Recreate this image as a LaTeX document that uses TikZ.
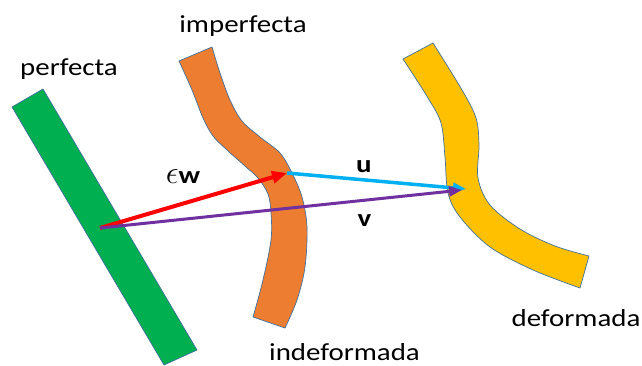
\documentclass[tikz,border=0pt]{standalone}
\usepackage{fontspec}
\newfontfamily\lblfont[FakeStretch=1.18]{Carlito}
\usetikzlibrary{arrows.meta}
\definecolor{barGreen}{HTML}{00B050}
\definecolor{imperfOrange}{HTML}{ED7D31}
\definecolor{deformYellow}{HTML}{FFC000}
\definecolor{outline}{HTML}{41719C}
\definecolor{vecRed}{HTML}{FF0000}
\definecolor{vecBlue}{HTML}{00B0F0}
\definecolor{vecPurple}{HTML}{7030A0}
\tikzset{
  strip/.style={draw=outline,line width=0.7pt,line join=round},
  lbl/.style={font=\lblfont\fontsize{24.5}{28}\selectfont,text=black,inner sep=0pt,anchor=base},
  veclbl/.style={font=\lblfont\bfseries\fontsize{24.5}{28}\selectfont,text=black,inner sep=0pt,anchor=base},
  vecred/.style={-{Triangle[length=15pt,width=12pt]},draw=vecRed,line width=4pt},
  vecblue/.style={-{Triangle[length=13pt,width=10pt]},draw=vecBlue,line width=3.5pt},
  vecpurple/.style={-{Triangle[length=13pt,width=10pt]},draw=vecPurple,line width=3pt}
}
\begin{document}
\begin{tikzpicture}[x=1pt,y=-1pt]
\path[use as bounding box] (0,0) rectangle (642,365);
% perfecta
\draw[strip,fill=barGreen] (12,107) -- (43,89) -- (197,350) -- (164,365) -- cycle;
% imperfecta / indeformada
\draw[strip,fill=imperfOrange] (179,61) -- plot[smooth,tension=0.55] coordinates {(212,47) (220,73) (230,100) (242,121) (260,137) (280,153) (292,173) (302,197) (307,227) (305,267) (297,300) (285,328)}
  -- plot[smooth,tension=0.55] coordinates {(253,317) (263,280) (271,240) (271,213) (268,194) (258,178) (246,167) (227,150) (213,136) (203,118) (192,90) (179,61)} -- cycle;
% deformada
\draw[strip,fill=deformYellow] (403,59) -- plot[smooth,tension=0.55] coordinates {(433,43) (462,90) (476,118) (479,145) (478,178) (490,205) (520,229) (555,246) (589,256)}
  -- plot[smooth,tension=0.55] coordinates {(580,288) (533,270) (490,247) (460,217) (448,193) (445,157) (441,123) (428,98) (403,59)} -- cycle;
% puntos
\coordinate (p0) at (100,228);
\coordinate (p1) at (287,173);
\coordinate (p2) at (466,189);
\coordinate (p2v) at (462,190);
\draw[vecred] (p0) -- (p1);
\draw[vecblue] (p1) -- (p2);
\draw[vecpurple] (p0) -- (p2v);
% textos
\node[lbl] (perf) at (69,75.7) {perfecta};
\node[lbl] (imperf) at (243,32.3) {imperfecta};
\node[lbl] (indef) at (344.5,360) {indeformada};
\node[lbl] (def) at (576,326.7) {deformada};
\node[veclbl] (ew) at (183,183.3) {\scalebox{1.3}{$\epsilon$}\textbf{w}};
\node[veclbl] (u) at (364,172.3) {u};
\node[veclbl] (v) at (364.5,226) {v};
\end{tikzpicture}
\end{document}
